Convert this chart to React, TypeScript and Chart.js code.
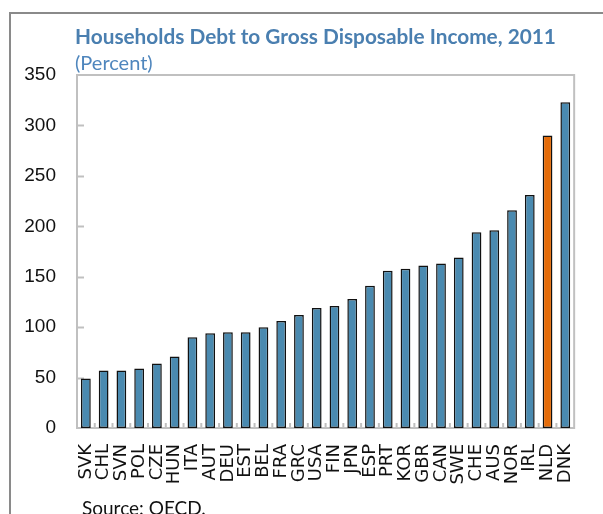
import React, { useEffect, useRef } from "react";
import { Chart, registerables } from "chart.js";

Chart.register(...registerables);

const countries = [
  "SVK", "CHL", "SVN", "POL", "CZE", "HUN", "ITA", "AUT", "DEU", "EST",
  "BEL", "FRA", "GRC", "USA", "FIN", "JPN", "ESP", "PRT", "KOR", "GBR",
  "CAN", "SWE", "CHE", "AUS", "NOR", "IRL", "NLD", "DNK",
];

const debtRatio = [
  49, 57, 57, 59, 64, 71, 90, 94, 95, 95,
  100, 106, 112, 119, 121, 128, 141, 156, 158, 161,
  163, 169, 194, 196, 216, 231, 290, 323,
];

const highlighted = ["NLD"];

const yTicks = [0, 50, 100, 150, 200, 250, 300, 350];

const BLUE = "#4a8ab0";
const ORANGE = "#e46c0a";
const AXIS_GRAY = "#c0c0c0";

const framePlugin = {
  id: "frameBox",
  beforeDatasetsDraw(chart: any) {
    const { ctx, chartArea, scales } = chart;
    const { left, right, top, bottom } = chartArea;
    ctx.save();
    ctx.strokeStyle = AXIS_GRAY;
    ctx.lineWidth = 2;
    const y = scales.y;
    yTicks.forEach((v) => {
      if (v === 0 || v === 350) return;
      const py = Math.round(y.getPixelForValue(v)) + 0.5;
      ctx.beginPath();
      ctx.moveTo(left, py);
      ctx.lineTo(left + 7, py);
      ctx.stroke();
    });
    const x = scales.x;
    for (let i = 0; i < countries.length - 1; i++) {
      const px = (x.getPixelForValue(i) + x.getPixelForValue(i + 1)) / 2;
      ctx.beginPath();
      ctx.moveTo(px, bottom);
      ctx.lineTo(px, bottom - 5);
      ctx.stroke();
    }
    ctx.strokeRect(left, top, right - left, bottom - top);
    ctx.restore();
  },
};

export default function App() {
  const canvasRef = useRef<HTMLCanvasElement | null>(null);

  useEffect(() => {
    if (!canvasRef.current) return;
    const chart = new Chart(canvasRef.current, {
      type: "bar",
      data: {
        labels: countries,
        datasets: [
          {
            data: debtRatio,
            backgroundColor: countries.map((c) =>
              highlighted.includes(c) ? ORANGE : BLUE
            ),
            borderColor: "#111111",
            borderWidth: 1.5,
            borderSkipped: false,
            barPercentage: 0.55,
            categoryPercentage: 1,
          },
        ],
      },
      options: {
        animation: false,
        responsive: false,
        maintainAspectRatio: false,
        layout: { padding: { left: 0, right: 6, top: 75, bottom: 0 } },
        plugins: {
          legend: { display: false },
          title: { display: false },
          tooltip: { enabled: false },
        },
        scales: {
          x: {
            grid: { display: false, drawTicks: false },
            border: { display: false },
            afterFit: (s: any) => {
              s.height = 86;
            },
            ticks: {
              autoSkip: false,
              minRotation: 90,
              maxRotation: 90,
              padding: 16,
              color: "#111111",
              font: { family: "'DejaVu Sans', sans-serif", size: 18 },
            },
          },
          y: {
            min: 0,
            max: 350,
            grid: { display: false, drawTicks: false },
            border: { display: false },
            afterFit: (s: any) => {
              s.width = 77;
            },
            afterBuildTicks: (s: any) => {
              s.ticks = yTicks.map((v) => ({ value: v }));
            },
            ticks: {
              padding: 21,
              color: "#111111",
              font: {
                family: "'Liberation Sans Narrow', 'Liberation Sans', sans-serif",
                size: 19,
              },
            },
          },
        },
      },
      plugins: [framePlugin],
    });
    return () => chart.destroy();
  }, []);

  return (
    <div
      style={{
        position: "absolute",
        left: 0,
        top: 0,
        width: 603,
        height: 514,
        overflow: "hidden",
        background: "#ffffff",
      }}
    >
      <div
        style={{
          position: "absolute",
          left: 9,
          top: 12,
          width: 700,
          height: 600,
          borderLeft: "2px solid #8a8a8a",
          borderTop: "2px solid #8a8a8a",
        }}
      />
      <canvas
        ref={canvasRef}
        width={603}
        height={514}
        style={{ position: "absolute", left: 0, top: 0 }}
      />
      <div
        style={{
          position: "absolute",
          left: 75,
          top: 24,
          fontFamily: "Lato, sans-serif",
          fontWeight: 700,
          fontSize: 20.8,
          lineHeight: 1.2,
          color: "#4a7fb0",
          whiteSpace: "nowrap",
        }}
      >
        Households Debt to Gross Disposable Income, 2011
      </div>
      <div
        style={{
          position: "absolute",
          left: 75,
          top: 50,
          fontFamily: "Lato, sans-serif",
          fontSize: 20,
          lineHeight: 1.2,
          color: "#4f86bd",
          whiteSpace: "nowrap",
        }}
      >
        (Percent)
      </div>
      <div
        style={{
          position: "absolute",
          left: 82,
          top: 497,
          fontFamily: "Lato, sans-serif",
          fontSize: 19,
          lineHeight: 1.2,
          color: "#111111",
          whiteSpace: "nowrap",
        }}
      >
        Source: OECD.
      </div>
    </div>
  );
}
